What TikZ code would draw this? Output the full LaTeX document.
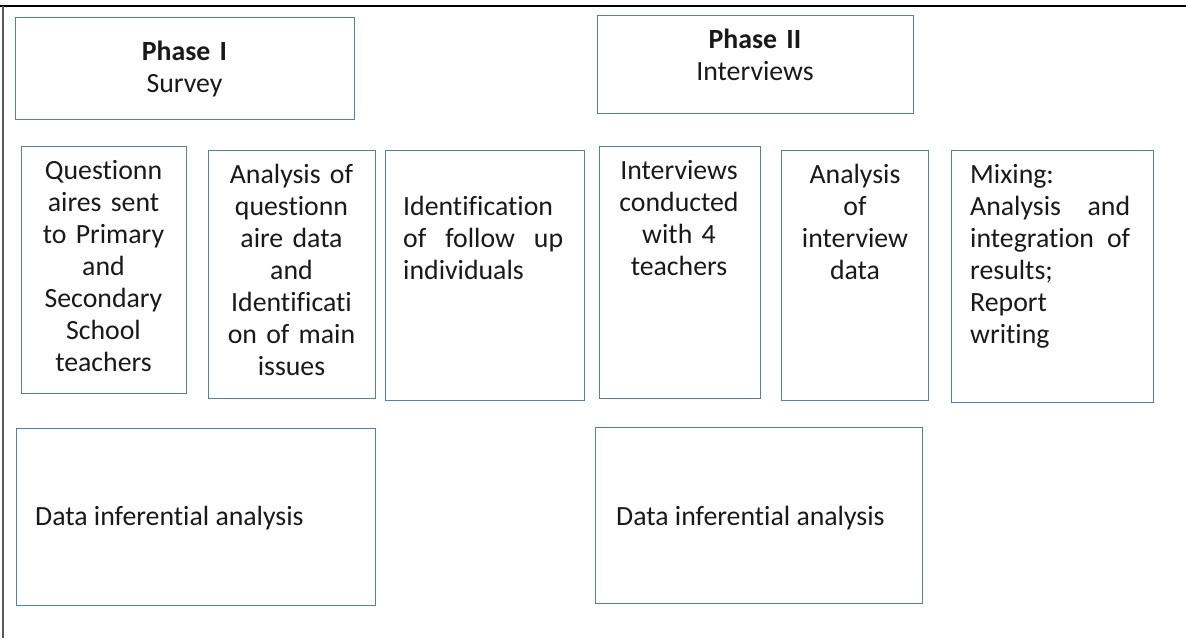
\documentclass[tikz,border=0pt]{standalone}
\usepackage{fontspec}
\setmainfont{Carlito}[Ligatures=NoCommon]
\definecolor{boxline}{RGB}{84,126,178}
\definecolor{framegray}{RGB}{90,90,90}
% a line spread over the full width of the text block
\newcommand{\spreadline}[1]{\makebox[160pt][l]{#1}}
\begin{document}
\begin{tikzpicture}[x=1pt,y=-1pt,
  stage/.style={draw=boxline, line width=1.3pt, inner sep=0pt, anchor=north west},
  words/.style={font=\fontsize{27.8}{32}\selectfont, inner sep=0pt, text=black!90},
  ctext/.style={words, anchor=base, text width=200pt, align=center},
  ltext/.style={words, anchor=base west, text width=160pt, align=left},
]
\useasboundingbox (0,0) rectangle (1186,638);

% page frame
\draw[line width=1.6pt] (0,6) -- (1186,6);
\draw[line width=2pt, framegray] (3,6) -- (3,638);

% phase headers
\node[stage, minimum width=339pt, minimum height=102pt] (p1) at (15,17) {};
\node[stage, minimum width=316pt, minimum height=98pt]  (p2) at (597,15) {};
\node[ctext] (p1-t) at (184.5,60) {\textbf{Phase I}\\Survey};
\node[ctext] (p2-t) at (755,48) {\textbf{Phase II}\\Interviews};

% steps
\node[stage, minimum width=165pt, minimum height=247pt] (q)   at (21,146) {};
\node[stage, minimum width=167pt, minimum height=248pt] (aq)  at (208,150) {};
\node[stage, minimum width=199pt, minimum height=250pt] (idf) at (385,150) {};
\node[stage, minimum width=161pt, minimum height=252pt] (ic)  at (599,146) {};
\node[stage, minimum width=147pt, minimum height=250pt] (ai)  at (781,150) {};
\node[stage, minimum width=202pt, minimum height=252pt] (mix) at (951,150) {};

\node[ctext] (q-t)  at (103.5,179) {Questionn\\aires sent\\to Primary\\and\\Secondary\\School\\teachers};
\node[ctext] (aq-t) at (291.5,183) {Analysis of\\questionn\\aire data\\and\\Identificati\\on of main\\issues};
\node[ltext] (idf-t) at (403,215) {Identification\\\spreadline{of\hfill follow\hfill up}\\individuals};
\node[ctext] (ic-t) at (679,179) {Interviews\\conducted\\with 4\\teachers};
\node[ctext] (ai-t) at (855,183) {Analysis\\of\\interview\\data};
\node[ltext] (mix-t) at (970,183) {Mixing:\\\spreadline{Analysis\hfill and}\\\spreadline{integration\hfill of}\\results;\\Report\\writing};

% inferential analysis
\node[stage, minimum width=359pt, minimum height=177pt] (d1) at (16,428) {};
\node[stage, minimum width=327pt, minimum height=176pt] (d2) at (595,427) {};
\node[words, anchor=base west] (d1-t) at (35,525) {Data inferential analysis};
\node[words, anchor=base west] (d2-t) at (616,525) {Data inferential analysis};
\end{tikzpicture}
\end{document}
